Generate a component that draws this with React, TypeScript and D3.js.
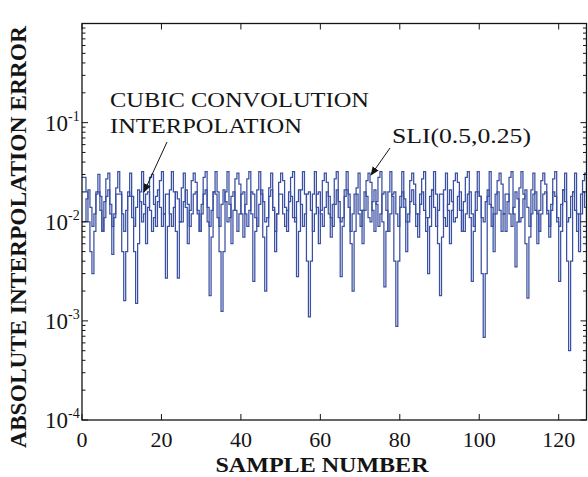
import React from "react";
import * as d3 from "d3";

// Sample positions (half-sample resolution, 0 .. 127)
const sampleStep = 0.5;
const sampleCount = 255;

// SLI(0.5,0.25) absolute interpolation error
const sliError: number[] = [
  0.028, 0.028, 0.02, 0.01, 0.005, 0.003, 0.008, 0.02, 0.03, 0.018,
  0.008, 0.016, 0.027, 0.031, 0.012, 0.0047, 0.011, 0.022, 0.032, 0.02,
  0.005, 0.0016, 0.005, 0.018, 0.031, 0.018, 0.005, 0.0015, 0.006, 0.02,
  0.032, 0.015, 0.006, 0.014, 0.028, 0.03, 0.015, 0.009, 0.016, 0.026,
  0.032, 0.012, 0.0027, 0.009, 0.021, 0.032, 0.02, 0.008, 0.0027, 0.01,
  0.022, 0.031, 0.014, 0.006, 0.013, 0.026, 0.031, 0.025, 0.013, 0.008,
  0.015, 0.028, 0.032, 0.01, 0.0018, 0.007, 0.02, 0.032, 0.02, 0.005,
  0.00125, 0.005, 0.02, 0.032, 0.015, 0.006, 0.013, 0.027, 0.031, 0.024,
  0.012, 0.007, 0.015, 0.027, 0.032, 0.012, 0.0025, 0.008, 0.021, 0.032,
  0.019, 0.007, 0.002, 0.009, 0.022, 0.031, 0.013, 0.005, 0.012, 0.025,
  0.031, 0.026, 0.014, 0.008, 0.016, 0.028, 0.032, 0.011, 0.0028, 0.008,
  0.021, 0.032, 0.019, 0.004, 0.0011, 0.004, 0.019, 0.032, 0.014, 0.006,
  0.013, 0.026, 0.031, 0.025, 0.012, 0.007, 0.015, 0.027, 0.032, 0.011,
  0.0028, 0.009, 0.021, 0.032, 0.019, 0.006, 0.002, 0.008, 0.022, 0.031,
  0.013, 0.006, 0.013, 0.026, 0.031, 0.025, 0.013, 0.008, 0.016, 0.028,
  0.032, 0.01, 0.0022, 0.008, 0.02, 0.032, 0.018, 0.004, 0.00088, 0.004,
  0.018, 0.032, 0.014, 0.005, 0.012, 0.026, 0.031, 0.024, 0.012, 0.007,
  0.015, 0.027, 0.032, 0.011, 0.003, 0.009, 0.021, 0.032, 0.019, 0.006,
  0.0018, 0.007, 0.021, 0.031, 0.013, 0.006, 0.013, 0.026, 0.031, 0.025,
  0.013, 0.008, 0.016, 0.028, 0.032, 0.011, 0.0025, 0.008, 0.02, 0.032,
  0.018, 0.003, 0.00068, 0.003, 0.018, 0.032, 0.014, 0.005, 0.012, 0.026,
  0.031, 0.024, 0.012, 0.008, 0.016, 0.028, 0.032, 0.012, 0.0035, 0.01,
  0.022, 0.032, 0.019, 0.006, 0.0017, 0.007, 0.021, 0.031, 0.013, 0.006,
  0.013, 0.026, 0.031, 0.024, 0.012, 0.007, 0.015, 0.027, 0.032, 0.01,
  0.0025, 0.008, 0.021, 0.031, 0.004, 0.0005, 0.004, 0.02, 0.031, 0.012,
  0.005, 0.012, 0.026, 0.031, 0.02,
];

// Cubic convolution interpolation absolute error
const cubicError: number[] = [
  0.01, 0.01, 0.017, 0.021, 0.014, 0.009,
  0.012, 0.019, 0.02, 0.013, 0.008, 0.011,
  0.018, 0.021, 0.015, 0.009, 0.012, 0.019,
  0.019, 0.019, 0.012, 0.008, 0.013, 0.02,
  0.018, 0.011, 0.009, 0.014, 0.021, 0.016,
  0.01, 0.012, 0.019, 0.02, 0.013, 0.008,
  0.011, 0.018, 0.021, 0.014, 0.009, 0.012,
  0.019, 0.019, 0.012, 0.009, 0.014, 0.02,
  0.017, 0.01, 0.01, 0.016, 0.021, 0.015,
  0.009, 0.012, 0.019, 0.02, 0.012, 0.008,
  0.012, 0.019, 0.021, 0.014, 0.009, 0.013,
  0.02, 0.019, 0.011, 0.009, 0.015, 0.021,
  0.016, 0.01, 0.011, 0.018, 0.02, 0.013,
  0.008, 0.012, 0.019, 0.02, 0.012, 0.009,
  0.013, 0.02, 0.019, 0.011, 0.009, 0.015,
  0.021, 0.016, 0.01, 0.011, 0.018, 0.021,
  0.014, 0.008, 0.012, 0.019, 0.019, 0.012,
  0.009, 0.013, 0.02, 0.018, 0.011, 0.01,
  0.016, 0.021, 0.015, 0.009, 0.012, 0.019,
  0.02, 0.013, 0.008, 0.012, 0.019, 0.02,
  0.012, 0.009, 0.014, 0.02, 0.018, 0.011,
  0.009, 0.015, 0.021, 0.016, 0.01, 0.011,
  0.018, 0.021, 0.014, 0.008, 0.012, 0.019,
  0.019, 0.012, 0.009, 0.013, 0.02, 0.018,
  0.011, 0.01, 0.016, 0.021, 0.015, 0.009,
  0.012, 0.019, 0.02, 0.013, 0.008, 0.012,
  0.019, 0.02, 0.012, 0.009, 0.014, 0.02,
  0.017, 0.01, 0.01, 0.016, 0.021, 0.015,
  0.009, 0.012, 0.019, 0.02, 0.013, 0.008,
  0.011, 0.018, 0.021, 0.014, 0.009, 0.013,
  0.019, 0.019, 0.011, 0.009, 0.015, 0.021,
  0.016, 0.01, 0.011, 0.018, 0.02, 0.013,
  0.008, 0.012, 0.019, 0.02, 0.012, 0.009,
  0.013, 0.02, 0.018, 0.011, 0.01, 0.016,
  0.021, 0.015, 0.009, 0.012, 0.019, 0.02,
  0.013, 0.008, 0.012, 0.019, 0.019, 0.012,
  0.009, 0.014, 0.02, 0.017, 0.01, 0.011,
  0.017, 0.021, 0.014, 0.009, 0.012, 0.019,
  0.02, 0.012, 0.008, 0.012, 0.019, 0.02,
  0.013, 0.009, 0.013, 0.02, 0.018, 0.011,
  0.009, 0.015, 0.021, 0.016, 0.01, 0.011,
  0.018, 0.02, 0.013, 0.008, 0.012, 0.019,
  0.02, 0.014, 0.01,
];

const xTicks = [0, 20, 40, 60, 80, 100, 120];
const yExponents = [-1, -2, -3, -4];

const W = 588;
const H = 477;
const M = { left: 82, right: 586.5, top: 23.5, bottom: 420 };
const LINE = "#3a50a3";
const INK = "#141414";
const FONT = "'Liberation Serif', 'Times New Roman', serif";

export default function App() {
  const x = d3.scaleLinear().domain([0, 127]).range([M.left, M.right]);
  const y = d3.scaleLog().domain([1e-4, 1]).range([M.bottom, M.top]);

  const xs = d3.range(sampleCount).map((i) => i * sampleStep);
  const line = d3
    .line<number>()
    .x((_, i) => x(xs[i]))
    .y((v) => y(v))
    .curve(d3.curveStepAfter);

  // minor log ticks
  const minor: number[] = [];
  for (let e = -4; e < 0; e++) {
    for (let k = 2; k <= 9; k++) minor.push(k * Math.pow(10, e));
  }
  const major = [1e-4, 1e-3, 1e-2, 1e-1, 1];

  return (
    <svg
      width={W}
      height={H}
      style={{ position: "absolute", left: 0, top: 0, background: "#fff" }}
      fontFamily={FONT}
    >
      <defs>
        <clipPath id="plot">
          <rect x={M.left} y={M.top} width={M.right - M.left} height={M.bottom - M.top} />
        </clipPath>
        <marker id="ah" viewBox="0 0 10 10" refX="9" refY="5" markerWidth="9" markerHeight="9" orient="auto-start-reverse" markerUnits="userSpaceOnUse">
          <path d="M0,1 L10,5 L0,9 z" fill={INK} />
        </marker>
      </defs>

      <g clipPath="url(#plot)" fill="none" stroke={LINE} strokeWidth={1.25}>
        <path d={line(cubicError) || ""} />
        <path d={line(sliError) || ""} />
      </g>

      {/* frame */}
      <rect
        x={M.left}
        y={M.top}
        width={M.right - M.left}
        height={M.bottom - M.top}
        fill="none"
        stroke={INK}
        strokeWidth={1.3}
      />

      {/* ticks */}
      <g stroke={INK} strokeWidth={1}>
        {major.map((v) => (
          <g key={"M" + v}>
            <line x1={M.left} x2={M.left + 6} y1={y(v)} y2={y(v)} />
            <line x1={M.right} x2={M.right - 6} y1={y(v)} y2={y(v)} />
          </g>
        ))}
        {minor.map((v) => (
          <g key={"m" + v}>
            <line x1={M.left} x2={M.left + 3.5} y1={y(v)} y2={y(v)} />
            <line x1={M.right} x2={M.right - 3.5} y1={y(v)} y2={y(v)} />
          </g>
        ))}
        {xTicks.map((t) => (
          <g key={"x" + t}>
            <line x1={x(t)} x2={x(t)} y1={M.bottom} y2={M.bottom - 6} />
            <line x1={x(t)} x2={x(t)} y1={M.top} y2={M.top + 6} />
          </g>
        ))}
      </g>

      {/* x tick labels */}
      <g fontSize={22} fill={INK} textAnchor="middle">
        {xTicks.map((t) => (
          <text key={"xl" + t} x={x(t)} y={447}>
            {t}
          </text>
        ))}
      </g>

      {/* y tick labels */}
      <g fill={INK}>
        {yExponents.map((e) => (
          <text key={"yl" + e} x={45} y={y(Math.pow(10, e)) + 8} fontSize={23}>
            10
            <tspan fontSize={14} dy={-10}>
              {e}
            </tspan>
          </text>
        ))}
      </g>

      {/* axis titles */}
      <text
        x={322}
        y={472}
        fontSize={21}
        fontWeight="bold"
        fill={INK}
        textAnchor="middle"
        textLength={213}
        lengthAdjust="spacingAndGlyphs"
      >
        SAMPLE NUMBER
      </text>
      <text
        transform="translate(26,237) rotate(-90)"
        fontSize={23}
        fontWeight="bold"
        fill={INK}
        textAnchor="middle"
        textLength={422}
        lengthAdjust="spacingAndGlyphs"
      >
        ABSOLUTE INTERPOLATION ERROR
      </text>

      {/* annotations */}
      <g fontSize={22} fill={INK}>
        <text x={110} y={107} textLength={259} lengthAdjust="spacingAndGlyphs">
          CUBIC CONVOLUTION
        </text>
        <text x={110} y={133} textLength={192} lengthAdjust="spacingAndGlyphs">
          INTERPOLATION
        </text>
        <text x={392} y={143} textLength={139} lengthAdjust="spacingAndGlyphs">
          SLI(0.5,0.25)
        </text>
      </g>
      <g stroke={INK} strokeWidth={1}>
        <line x1={167} y1={142} x2={144} y2={192} markerEnd="url(#ah)" />
        <line x1={390} y1={148} x2={371} y2={175} markerEnd="url(#ah)" />
      </g>
    </svg>
  );
}
